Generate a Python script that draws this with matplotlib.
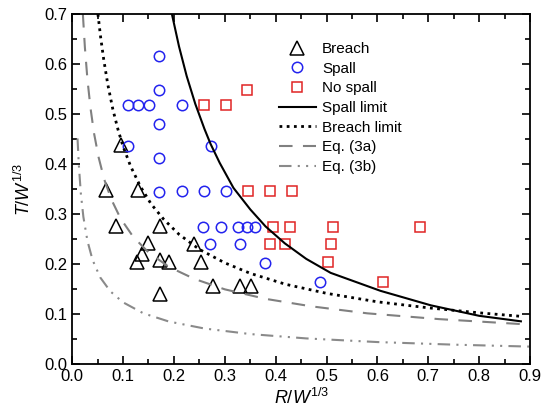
import matplotlib
matplotlib.use('Agg')
import matplotlib.pyplot as plt
from matplotlib.ticker import MultipleLocator

plt.rcParams['font.family'] = ['Liberation Sans', 'DejaVu Sans']
plt.rcParams['mathtext.fontset'] = 'custom'
plt.rcParams['mathtext.rm'] = 'Liberation Sans'
plt.rcParams['mathtext.it'] = 'Liberation Sans:italic'

# test results (R/W^1/3, T/W^1/3)
breachR = [0.095, 0.066, 0.130, 0.087, 0.172, 0.150, 0.240, 0.138, 0.127,
           0.172, 0.191, 0.253, 0.277, 0.329, 0.352, 0.172]
breachT = [0.437, 0.347, 0.347, 0.276, 0.276, 0.242, 0.239, 0.220, 0.204,
           0.208, 0.204, 0.203, 0.155, 0.155, 0.155, 0.140]

spallR = [0.171, 0.171, 0.109, 0.130, 0.151, 0.2165, 0.171, 0.110, 0.272,
          0.171, 0.171, 0.2165, 0.259, 0.302, 0.258, 0.292, 0.326, 0.343,
          0.360, 0.270, 0.330, 0.379, 0.488]
spallT = [0.616, 0.548, 0.517, 0.517, 0.517, 0.517, 0.479, 0.435, 0.435,
          0.411, 0.343, 0.345, 0.345, 0.345, 0.274, 0.274, 0.274, 0.274,
          0.274, 0.239, 0.239, 0.202, 0.163]

nospallR = [0.259, 0.302, 0.343, 0.346, 0.388, 0.432, 0.394, 0.428, 0.513,
            0.684, 0.388, 0.418, 0.508, 0.503, 0.611]
nospallT = [0.517, 0.517, 0.548, 0.345, 0.345, 0.345, 0.274, 0.274, 0.274,
            0.274, 0.239, 0.239, 0.239, 0.203, 0.163]

# limit curves, points
spallLimR = [0.196, 0.21, 0.225, 0.242, 0.26, 0.272, 0.29, 0.317, 0.35, 0.38,
             0.418, 0.46, 0.508, 0.606, 0.705, 0.80, 0.882]
spallLimT = [0.700, 0.635, 0.576, 0.520, 0.470, 0.440, 0.402, 0.352, 0.309,
             0.275, 0.241, 0.210, 0.182, 0.146, 0.117, 0.096, 0.085]

breachLimR = [0.0506, 0.056, 0.062, 0.07, 0.08, 0.09, 0.10, 0.115, 0.134,
              0.155, 0.18, 0.21, 0.25, 0.30, 0.35, 0.42, 0.50, 0.60, 0.70,
              0.80, 0.882]
breachLimT = [0.700, 0.653, 0.609, 0.559, 0.509, 0.469, 0.435, 0.395, 0.355,
              0.320, 0.289, 0.259, 0.229, 0.202, 0.181, 0.159, 0.141, 0.124,
              0.112, 0.102, 0.095]

eq3aR = [0.021, 0.025, 0.03, 0.036, 0.043, 0.052, 0.063, 0.077, 0.095, 0.12,
         0.15, 0.19, 0.24, 0.30, 0.38, 0.47, 0.58, 0.72, 0.882]
eq3aT = [0.700, 0.633, 0.569, 0.512, 0.461, 0.413, 0.369, 0.329, 0.291, 0.254,
         0.223, 0.194, 0.170, 0.149, 0.130, 0.115, 0.101, 0.0895, 0.0795]

eq3bR = [0.0105, 0.013, 0.017, 0.022, 0.03, 0.04, 0.055, 0.075, 0.10, 0.14,
         0.19, 0.26, 0.35, 0.46, 0.60, 0.75, 0.90]
eq3bT = [0.451, 0.399, 0.341, 0.294, 0.246, 0.208, 0.173, 0.145, 0.123, 0.101,
         0.0846, 0.0706, 0.0595, 0.0508, 0.0435, 0.0383, 0.0344]

fig = plt.figure(figsize=(5.51, 4.12), dpi=100)
ax = fig.add_axes([0.131, 0.117, 0.831, 0.849])

ax.plot(breachR, breachT, ls='none', marker='^', ms=9.5, mfc='none',
        mec='black', mew=1.1, label='Breach')
ax.plot(spallR, spallT, ls='none', marker='o', ms=7.5, mfc='none',
        mec='#2323ee', mew=1.1, label='Spall')
ax.plot(nospallR, nospallT, ls='none', marker='s', ms=6.8, mfc='none',
        mec='#e02525', mew=1.1, label='No spall')

ax.plot(spallLimR, spallLimT, color='black', lw=1.5, label='Spall limit')
ax.plot(breachLimR, breachLimT, color='black', lw=2.0, ls=(0, (1, 1.6)),
        label='Breach limit')
ax.plot(eq3aR, eq3aT, color='#808080', lw=1.5, ls=(0, (6.5, 5)),
        label='Eq. (3a)')
ax.plot(eq3bR, eq3bT, color='#8a8a8a', lw=1.5,
        ls=(0, (6, 3, 1, 3, 1, 3)), label='Eq. (3b)')

ax.set_xlim(0, 0.9)
ax.set_ylim(0, 0.7)
ax.xaxis.set_major_locator(MultipleLocator(0.1))
ax.xaxis.set_minor_locator(MultipleLocator(0.05))
ax.yaxis.set_major_locator(MultipleLocator(0.1))
ax.yaxis.set_minor_locator(MultipleLocator(0.05))
ax.xaxis.set_major_formatter('{x:.1f}')
ax.yaxis.set_major_formatter('{x:.1f}')
ax.tick_params(which='both', direction='in', top=True, right=True,
               labelsize=12, width=1.2)
ax.tick_params(which='major', length=6)
ax.tick_params(which='minor', length=3.5)
for s in ax.spines.values():
    s.set_linewidth(1.3)

ax.set_xlabel(r'$R/W^{1/3}$', fontsize=13, labelpad=3)
ax.set_ylabel(r'$T/W^{1/3}$', fontsize=13, labelpad=7)

ax.legend(loc='upper left', bbox_to_anchor=(0.452, 0.92), frameon=False,
          fontsize=11, handlelength=2.4, handletextpad=0.4, labelspacing=0.37,
          borderpad=0, borderaxespad=0)

fig.savefig('out.png', dpi=100)
